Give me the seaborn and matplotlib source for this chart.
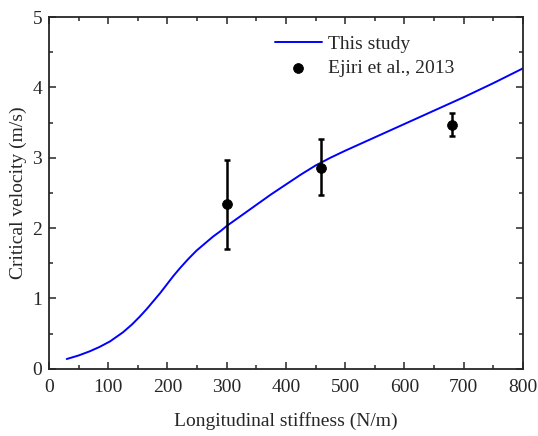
import pandas as pd
import seaborn as sns
from matplotlib import pyplot as plt
from matplotlib.ticker import MultipleLocator

# model curve
stiffness = [30, 50, 69, 85, 103, 125, 140, 153, 165, 176, 188, 199, 210, 221, 235,
             249, 263, 277, 290, 300, 325, 350, 375, 400, 425, 450, 475, 500,
             550, 600, 650, 700, 750, 800]
velocity = [0.14, 0.19, 0.25, 0.31, 0.39, 0.52, 0.63, 0.74, 0.85, 0.96, 1.08, 1.20,
            1.32, 1.43, 1.56, 1.68, 1.78, 1.88, 1.96, 2.03, 2.18, 2.33, 2.48, 2.62,
            2.76, 2.89, 3.00, 3.10, 3.29, 3.48, 3.67, 3.86, 4.06, 4.27]

# experiment (Ejiri et al., 2013)
exp_k = [300, 460, 680]
exp_v = [2.34, 2.86, 3.47]
exp_lo = [1.71, 2.47, 3.31]
exp_hi = [2.97, 3.26, 3.64]

sns.set_style("ticks")
plt.rcParams['font.family'] = ['Liberation Serif', 'DejaVu Serif']

fig = plt.figure(figsize=(5.38, 4.36), dpi=100)
ax = fig.add_axes([0.091, 0.154, 0.881, 0.807])

curve = pd.DataFrame({"k": stiffness, "v": velocity})
sns.lineplot(data=curve, x="k", y="v", ax=ax, color="#0000ff", lw=1.4,
             label="This study")

yerr = [[v - lo for v, lo in zip(exp_v, exp_lo)],
        [hi - v for v, hi in zip(exp_v, exp_hi)]]
ax.errorbar(exp_k, exp_v, yerr=yerr, fmt="none", ecolor="black",
            elinewidth=1.8, capsize=2, capthick=1.8, zorder=3)
sns.scatterplot(x=exp_k, y=exp_v, ax=ax, color="black", s=50,
                edgecolor="black", zorder=4, label="Ejiri et al., 2013")

ax.set_xlim(0, 800)
ax.set_ylim(0, 5)
ax.xaxis.set_major_locator(MultipleLocator(100))
ax.xaxis.set_minor_locator(MultipleLocator(50))
ax.yaxis.set_major_locator(MultipleLocator(1))
ax.yaxis.set_minor_locator(MultipleLocator(0.5))
ax.tick_params(which="both", direction="in", top=True, right=True,
               labelsize=14, width=1.1)
ax.tick_params(which="major", length=5)
ax.tick_params(which="minor", length=3)
ax.tick_params(axis="x", pad=7)
ax.tick_params(axis="y", pad=5)
for s in ax.spines.values():
    s.set_linewidth(1.3)

ax.set_xlabel("Longitudinal stiffness (N/m)", fontsize=14, labelpad=12)
ax.set_ylabel("Critical velocity (m/s)", fontsize=14, labelpad=4)

ax.legend(loc="upper left", bbox_to_anchor=(0.477, 0.947), frameon=False,
          fontsize=14, handlelength=2.4, handletextpad=0.3, labelspacing=0.3,
          borderpad=0, borderaxespad=0)

fig.savefig("out.png")
